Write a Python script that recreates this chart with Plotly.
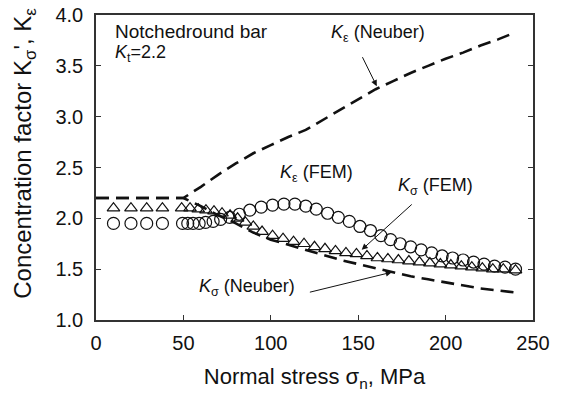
import plotly.graph_objects as go

# K_epsilon (Neuber) dashed line
ke_neuber_x = [0, 50, 60, 70, 80, 90, 100, 110, 120, 130, 140, 150, 160, 170, 180, 190, 200, 210, 220, 230, 240]
ke_neuber_y = [2.2, 2.2, 2.31, 2.43, 2.54, 2.64, 2.72, 2.80, 2.87, 2.97, 3.07, 3.17, 3.27, 3.35, 3.43, 3.50, 3.57, 3.63, 3.70, 3.76, 3.83]

# K_sigma (Neuber) dashed line
ks_neuber_x = [0, 50, 60, 70, 80, 90, 100, 110, 120, 130, 140, 150, 160, 170, 180, 190, 200, 210, 220, 230, 240]
ks_neuber_y = [2.2, 2.2, 2.12, 2.03, 1.95, 1.86, 1.79, 1.74, 1.69, 1.64, 1.59, 1.55, 1.51, 1.47, 1.43, 1.40, 1.37, 1.34, 1.31, 1.29, 1.27]

# K_epsilon (FEM) circles
ke_fem_x = [10, 20, 29, 38, 49.5, 52.5, 55.5, 59, 62.7, 67, 71.3, 76.5, 82, 88, 94.5, 101, 107.5, 113.8, 120, 126,
            132.5, 138.6, 144.9, 151, 157, 163, 168.5, 174, 180, 186, 192, 198, 204, 210, 216, 222, 228, 234, 240]
ke_fem_y = [1.95, 1.95, 1.95, 1.95, 1.95, 1.95, 1.95, 1.95, 1.96, 1.97, 1.99, 2.01, 2.04, 2.08, 2.11, 2.13, 2.14, 2.14, 2.12, 2.09,
            2.05, 2.01, 1.97, 1.92, 1.88, 1.83, 1.79, 1.75, 1.72, 1.69, 1.66, 1.63, 1.61, 1.59, 1.57, 1.55, 1.53, 1.52, 1.50]

# K_sigma (FEM) triangles
ks_fem_x = [10, 20, 29, 38, 49, 53.8, 58.5, 62.9, 67.5, 72.1, 76.7, 81, 85.5, 90, 95, 101, 107, 113, 119, 125,
            131, 137, 143, 149, 155, 161, 167, 173, 179, 185, 191, 197, 203, 209, 215, 221, 227, 233, 240]
ks_fem_y = [2.10, 2.10, 2.10, 2.10, 2.10, 2.10, 2.09, 2.08, 2.07, 2.05, 2.03, 2.00, 1.96, 1.92, 1.87, 1.83, 1.80, 1.77, 1.75, 1.72,
            1.70, 1.68, 1.66, 1.65, 1.63, 1.61, 1.60, 1.59, 1.58, 1.57, 1.56, 1.55, 1.54, 1.53, 1.52, 1.51, 1.50, 1.50, 1.49]

x_ticks = [0, 50, 100, 150, 200, 250]
y_ticks = [1.0, 1.5, 2.0, 2.5, 3.0, 3.5, 4.0]

FONT = "Liberation Sans, Arial, sans-serif"
INK = "#111111"

fig = go.Figure()
fig.add_trace(go.Scatter(x=ks_fem_x, y=ks_fem_y, mode="markers",
                         marker=dict(symbol="triangle-up-open", size=11, color=INK, line=dict(width=1.2, color=INK)),
                         showlegend=False))
fig.add_trace(go.Scatter(x=ke_fem_x, y=ke_fem_y, mode="markers",
                         marker=dict(symbol="circle-open", size=12, color=INK, line=dict(width=1.2, color=INK)),
                         showlegend=False))
fig.add_trace(go.Scatter(x=ke_neuber_x, y=ke_neuber_y, mode="lines",
                         line=dict(color=INK, width=2.6, dash="13px,7px"), showlegend=False))
fig.add_trace(go.Scatter(x=ks_neuber_x, y=ks_neuber_y, mode="lines",
                         line=dict(color=INK, width=2.6, dash="13px,7px"), showlegend=False))

ann_font = dict(family=FONT, size=18, color=INK)
annotations = [
    dict(x=9.7, y=3.84, text="Notchedround bar", showarrow=False, xanchor="left", yanchor="middle",
         font=dict(family=FONT, size=19, color=INK)),
    dict(x=9.7, y=3.62, text="<i>K</i><sub>t</sub>=2.2", showarrow=False, xanchor="left", yanchor="middle",
         font=dict(family=FONT, size=18, color=INK)),
    dict(x=161.3, y=3.82, text="<i>K</i><sub>ε</sub> (Neuber)", showarrow=False, font=ann_font),
    dict(x=126.4, y=2.44, text="<i>K</i><sub>ε</sub> (FEM)", showarrow=False, font=ann_font),
    dict(x=194.5, y=2.31, text="<i>K</i><sub>σ</sub> (FEM)", showarrow=False, font=ann_font),
    dict(x=86.4, y=1.32, text="<i>K</i><sub>σ</sub> (Neuber)", showarrow=False, font=ann_font),
    dict(x=0, y=0.545, xref="paper", yref="paper", xshift=-71, xanchor="center", yanchor="middle", textangle=-90,
         text="Concentration factor K<sub>σ</sub>', K<sub>ε</sub>", showarrow=False,
         font=dict(family=FONT, size=24, color=INK)),
]
arrows = [
    (160.6, 3.30, 152.0, 3.60),
    (152.0, 1.69, 181.5, 2.15),
    (169.2, 1.47, 121.5, 1.27),
]
for tx, ty, sx, sy in arrows:
    annotations.append(dict(x=tx, y=ty, ax=sx, ay=sy, xref="x", yref="y", axref="x", ayref="y",
                            text="", showarrow=True, arrowhead=2, arrowsize=1.2, arrowwidth=1, arrowcolor=INK))

fig.update_layout(
    width=562, height=393,
    margin=dict(l=96, r=29, t=15, b=73),
    paper_bgcolor="white", plot_bgcolor="white",
    font=dict(family=FONT, color=INK),
    annotations=annotations,
    xaxis=dict(range=[0, 250], tickvals=x_ticks, ticktext=[str(v) for v in x_ticks], automargin=False,
               showgrid=False, zeroline=False, showline=True, linecolor="#333", linewidth=1.5,
               mirror=True, ticks="inside", ticklen=5, tickcolor="#333", ticklabelstandoff=4,
               tickfont=dict(size=20, family=FONT, color=INK),
               title=dict(text="Normal stress σ<sub>n</sub>, MPa", font=dict(size=22, family=FONT, color=INK), standoff=16)),
    yaxis=dict(range=[1, 4], tickvals=y_ticks, ticktext=[f"{v:.1f}" for v in y_ticks], automargin=False,
               showgrid=False, zeroline=False, showline=True, linecolor="#333", linewidth=1.5,
               mirror="ticks", ticks="inside", ticklen=5, tickcolor="#333", ticklabelstandoff=7,
               tickfont=dict(size=20, family=FONT, color=INK)),
)

fig.write_html("out.html", config={"displayModeBar": False},
               post_script="document.body.style.margin='0';document.body.style.padding='0';")
